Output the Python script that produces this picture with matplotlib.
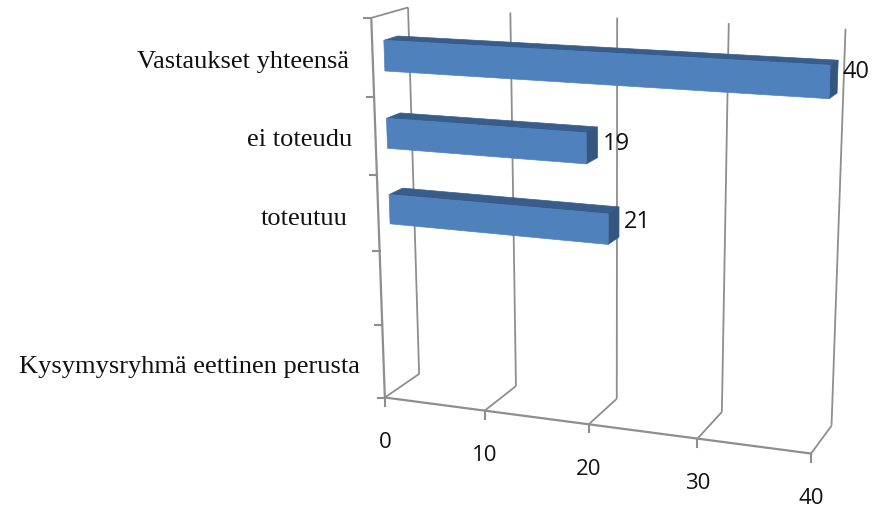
import numpy as np
import matplotlib
matplotlib.use("Agg")
import matplotlib.pyplot as plt
from matplotlib.patches import Polygon

W, H = 875, 508
categories = ["Kysymysryhmä eettinen perusta", "", "toteutuu", "ei toteudu", "Vastaukset yhteensä"]
values = [None, None, 21, 19, 40]
value_ticks = [0, 10, 20, 30, 40]
n_cat = len(categories)

# layout nudges (pixels), per category
label_right = [360, 0, 348, 352, 349]
label_dy = [6, 0, 6, 4, 4]
value_dy = [0, 0, 2, 3, -3]

# camera calibration: (value, category position, depth) -> pixel
calib = [
    (0,0,0,385,397),(10,0,0,485,410),(20,0,0,589,424),(30,0,0,698,438),(40,0,0,811,454),
    (0,0,1,419,374),(10,0,1,516,386),(20,0,1,617,399),(30,0,1,722,412),(40,0,1,831,426),
    (0,5,1,409,7),(10,5,1,510,12),(20,5,1,617,18),(30,5,1,728,24),(40,5,1,846,28),
    (0,5,0,372,18),(0,4,0,374,98),(0,3,0,376,174),(0,2,0,379,252),(0,1,0,382,326),
]
A = []
b = []
for v, c, d, x, y in calib:
    A.append([v, c, d, 1, 0, 0, 0, 0, -x*v, -x*c, -x*d]); b.append(x)
    A.append([0, 0, 0, 0, v, c, d, 1, -y*v, -y*c, -y*d]); b.append(y)
P = np.append(np.linalg.lstsq(np.array(A, float), np.array(b, float), rcond=None)[0], 1).reshape(3, 4)

def proj(v, c, d):
    q = P @ np.array([v, c, d, 1.0])
    return q[0]/q[2], q[1]/q[2]

fig = plt.figure(figsize=(W/100, H/100), dpi=100, facecolor="white")
ax = fig.add_axes([0, 0, 1, 1])
ax.set_xlim(0, W); ax.set_ylim(H, 0); ax.axis("off")

GRID = "#8e8e8e"
def seg(a, b, lw=1.3, col=GRID, z=1):
    ax.plot(*zip(proj(*a), proj(*b)), color=col, lw=lw, solid_capstyle="butt", zorder=z)

# walls
for v in value_ticks:
    seg((v,0,0), (v,0,1))
    seg((v,0,1), (v,n_cat,1))
    x, y = proj(v,0,0)
    ax.plot([x, x], [y, y+8], color=GRID, lw=1.5, zorder=1)
    ax.text(x, y+45, str(v), ha="center", va="center", fontsize=16, family="Open Sans", color="#111111")
seg((0,n_cat,1), (0,n_cat,0))
seg((0,0,0), (0,n_cat,0), lw=1.6)
seg((0,0,0), (40,0,0), lw=1.6)
for c in range(n_cat+1):
    x, y = proj(0,c,0)
    ax.plot([x-7, x], [y, y], color=GRID, lw=1.5, zorder=1)

# bars
FRONT, DARK = "#4f81bd", "#385d8a"
D0, D1 = 0.31, 0.69
H0, H1 = 0.285, 0.675
for c, (label, val) in enumerate(zip(categories, values)):
    if label:
        _, y = proj(0, c+0.5, 0)
        ax.text(label_right[c], y+label_dy[c], label, ha="right", va="center",
                fontsize=19, family="Liberation Serif", color="#111111")
    if val is None:
        continue
    lo, hi = c+H0, c+H1
    top = [proj(0,hi,D0), proj(val,hi,D0), proj(val,hi,D1), proj(0,hi,D1)]
    side = [proj(val,lo,D0), proj(val,hi,D0), proj(val,hi,D1), proj(val,lo,D1)]
    front = [proj(0,lo,D0), proj(val,lo,D0), proj(val,hi,D0), proj(0,hi,D0)]
    ax.add_patch(Polygon(top, fc=DARK, ec=DARK, lw=0.5, zorder=3))
    ax.add_patch(Polygon(side, fc="#345780", ec="#345780", lw=0.5, zorder=3))
    ax.add_patch(Polygon(front, fc=FRONT, ec=FRONT, lw=0.5, zorder=4))
    x, y = proj(val, c+0.5, D1)
    ax.text(x+5, y+value_dy[c], str(val), ha="left", va="center", fontsize=17, family="Open Sans", color="#111111", zorder=5)

fig.savefig("out.png", dpi=100)
